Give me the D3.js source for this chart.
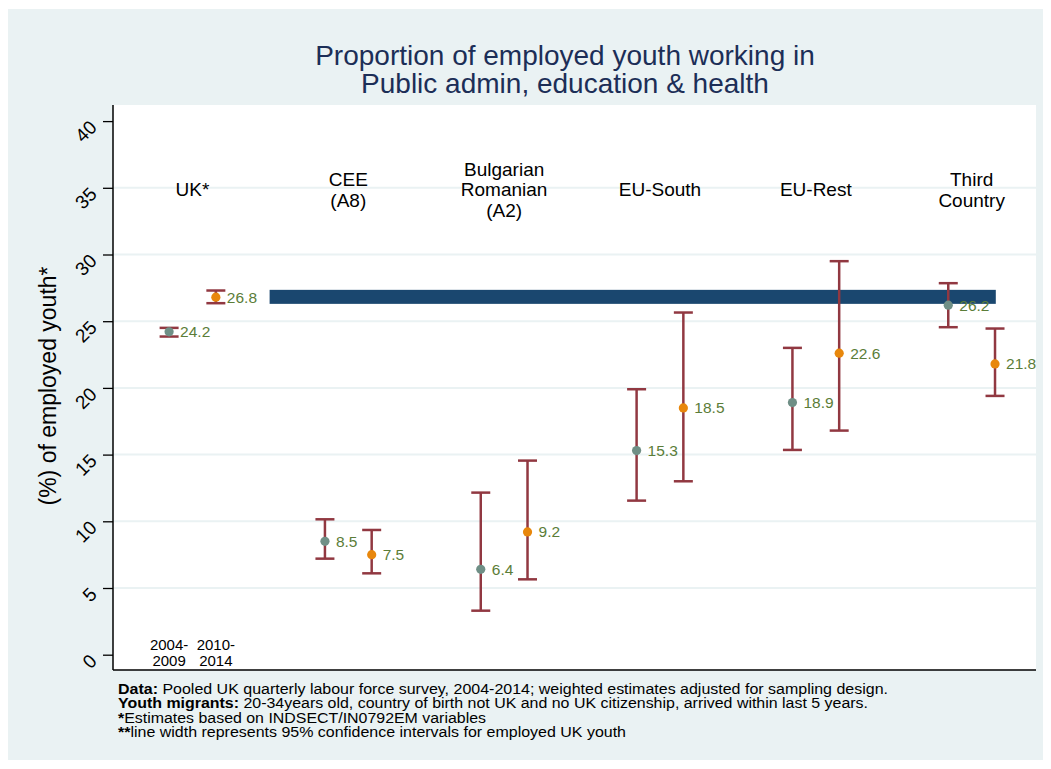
<!DOCTYPE html>
<html>
<head>
<meta charset="utf-8">
<script src="https://cdn.jsdelivr.net/npm/d3@7"></script>
<style>
  html, body { margin: 0; padding: 0; background: #ffffff; }
  svg { display: block; font-family: "Liberation Sans", Arial, Helvetica, sans-serif; }
</style>
</head>
<body>
<svg id="chart" width="1051" height="769"></svg>
<script>
// ---------------- data ----------------
const groupLabels = [["UK*"], ["CEE", "(A8)"], ["Bulgarian", "Romanian", "(A2)"], ["EU-South"], ["EU-Rest"], ["Third", "Country"]];
const periodLabels = [["2004-", "2009"], ["2010-", "2014"]];
const est2004 = [24.2, 8.5, 6.4, 15.3, 18.9, 26.2];
const lo2004  = [23.85, 7.2, 3.3, 11.55, 15.35, 24.55];
const hi2004  = [24.5, 10.15, 12.15, 19.9, 23.0, 27.85];
const est2010 = [26.8, 7.5, 9.2, 18.5, 22.6, 21.8];
const lo2010  = [26.35, 6.1, 5.65, 13.0, 16.8, 19.4];
const hi2010  = [27.3, 9.35, 14.55, 25.65, 29.5, 24.45];
const ukBand  = [26.3, 27.35];
const bandSpan = [6.45, 53.05];
const yTicks = [0, 5, 10, 15, 20, 25, 30, 35, 40];
const titleLines = ["Proportion of employed youth working in", "Public admin, education & health"];
const yTitle = "(%) of employed youth*";
const notes = [
  ["Data:", " Pooled UK quarterly labour force survey, 2004-2014; weighted estimates adjusted for sampling design."],
  ["Youth migrants:", " 20-34years old, country of birth not UK and no UK citizenship, arrived within last 5 years."],
  ["*", "Estimates based on INDSECT/IN0792EM variables"],
  ["**", "line width represents 95% confidence intervals for employed UK youth"]
];
const noteWidths = [770, 750, 368, 508];

// ---------------- layout ----------------
const svg = d3.select("#chart");
const plot = { left: 113, right: 1036, top: 105, bottom: 670 };
const x = d3.scaleLinear().domain([-3.6, 55.63]).range([plot.left, plot.right]);
const y = d3.scaleLinear().domain([0, 40]).range([654.7, 121.1]);
const pos = (g, p) => g * 10 + p * 3;

const colGray = "#6f8f86", colOrange = "#e8870c", colBar = "#913841", colLab = "#5b7d38", colBand = "#1a476f";

// backgrounds
svg.append("rect").attr("x", 8).attr("y", 9).attr("width", 1035).attr("height", 751).attr("fill", "#eaf2f3");
svg.append("rect").attr("x", plot.left).attr("y", plot.top).attr("width", plot.right - plot.left).attr("height", plot.bottom - plot.top).attr("fill", "#ffffff");

// gridlines
svg.append("g").selectAll("line").data(yTicks.filter(t => t > 0 && t < 40)).join("line")
  .attr("x1", plot.left).attr("x2", plot.right)
  .attr("y1", d => y(d)).attr("y2", d => y(d))
  .attr("stroke", "#eaf2f3").attr("stroke-width", 2);

// y axis
const yAxis = d3.axisLeft(y).tickValues(yTicks).tickSize(10).tickPadding(4).tickFormat(d3.format("d"));
const gy = svg.append("g").attr("transform", `translate(${plot.left},0)`).call(yAxis);
gy.select(".domain").remove();
gy.selectAll(".tick line").attr("stroke", "#000").attr("stroke-width", 1.3);
gy.selectAll(".tick text")
  .attr("font-size", 19).attr("fill", "#000")
  .attr("font-family", "Liberation Sans, Arial, sans-serif")
  .attr("text-anchor", "end").attr("dy", null).attr("x", null)
  .attr("transform", "translate(-15,7) rotate(-45)");
svg.append("line").attr("x1", plot.left).attr("x2", plot.left).attr("y1", plot.top).attr("y2", plot.bottom)
  .attr("stroke", "#000").attr("stroke-width", 1.5);
svg.append("line").attr("x1", plot.left).attr("x2", plot.right).attr("y1", plot.bottom).attr("y2", plot.bottom)
  .attr("stroke", "#000").attr("stroke-width", 1.5);

// UK band
svg.append("rect")
  .attr("x", x(bandSpan[0])).attr("width", x(bandSpan[1]) - x(bandSpan[0]))
  .attr("y", y(ukBand[1])).attr("height", y(ukBand[0]) - y(ukBand[1]))
  .attr("fill", colBand);

// error bars + markers
const rows = [];
groupLabels.forEach((g, i) => {
  rows.push({ g: i, p: 0, est: est2004[i], lo: lo2004[i], hi: hi2004[i], col: colGray });
  rows.push({ g: i, p: 1, est: est2010[i], lo: lo2010[i], hi: hi2010[i], col: colOrange });
});
const cap = 9.5;
const eb = svg.append("g").selectAll("g").data(rows).join("g");
eb.append("line").attr("x1", d => x(pos(d.g, d.p))).attr("x2", d => x(pos(d.g, d.p)))
  .attr("y1", d => y(d.lo)).attr("y2", d => y(d.hi)).attr("stroke", colBar).attr("stroke-width", 2.5);
eb.append("line").attr("x1", d => x(pos(d.g, d.p)) - cap).attr("x2", d => x(pos(d.g, d.p)) + cap)
  .attr("y1", d => y(d.lo)).attr("y2", d => y(d.lo)).attr("stroke", colBar).attr("stroke-width", 2.5);
eb.append("line").attr("x1", d => x(pos(d.g, d.p)) - cap).attr("x2", d => x(pos(d.g, d.p)) + cap)
  .attr("y1", d => y(d.hi)).attr("y2", d => y(d.hi)).attr("stroke", colBar).attr("stroke-width", 2.5);
eb.append("circle").attr("cx", d => x(pos(d.g, d.p))).attr("cy", d => y(d.est)).attr("r", 4.6).attr("fill", d => d.col);
eb.append("text").attr("x", d => x(pos(d.g, d.p)) + 11).attr("y", d => y(d.est) + 5.5)
  .attr("font-size", 15.5).attr("fill", colLab).text(d => d.est.toFixed(1));

// group labels
groupLabels.forEach((lines, i) => {
  const cxx = (x(pos(i, 0)) + x(pos(i, 1))) / 2;
  const n = lines.length;
  const t = svg.append("text").attr("text-anchor", "middle").attr("font-size", 19).attr("fill", "#000");
  lines.forEach((ln, k) => {
    t.append("tspan").attr("x", cxx).attr("y", y(35) + 1.5 + (k - (n - 1) / 2) * 20.5 + 7).text(ln);
  });
});

// period labels at bottom of UK group
periodLabels.forEach((lines, p) => {
  const t = svg.append("text").attr("text-anchor", "middle").attr("font-size", 15).attr("fill", "#000");
  lines.forEach((ln, k) => {
    t.append("tspan").attr("x", x(pos(0, p))).attr("y", 649.5 + k * 16).text(ln);
  });
});

// title
const tt = svg.append("text").attr("text-anchor", "middle").attr("font-size", 28).attr("fill", "#1c2e57");
titleLines.forEach((ln, k) => tt.append("tspan").attr("x", 565).attr("y", 65 + k * 28).text(ln));

// y title
svg.append("text").attr("transform", "translate(56,386) rotate(-90)").attr("text-anchor", "middle")
  .attr("font-size", 23).attr("fill", "#000").text(yTitle);

// notes
notes.forEach((nt, k) => {
  const t = svg.append("text").attr("x", 118).attr("y", 694 + k * 14.3).attr("font-size", 14).attr("fill", "#000")
    .attr("textLength", noteWidths[k]).attr("lengthAdjust", "spacingAndGlyphs");
  t.append("tspan").attr("font-weight", "bold").text(nt[0]);
  t.append("tspan").text(nt[1]);
});
</script>
</body>
</html>
